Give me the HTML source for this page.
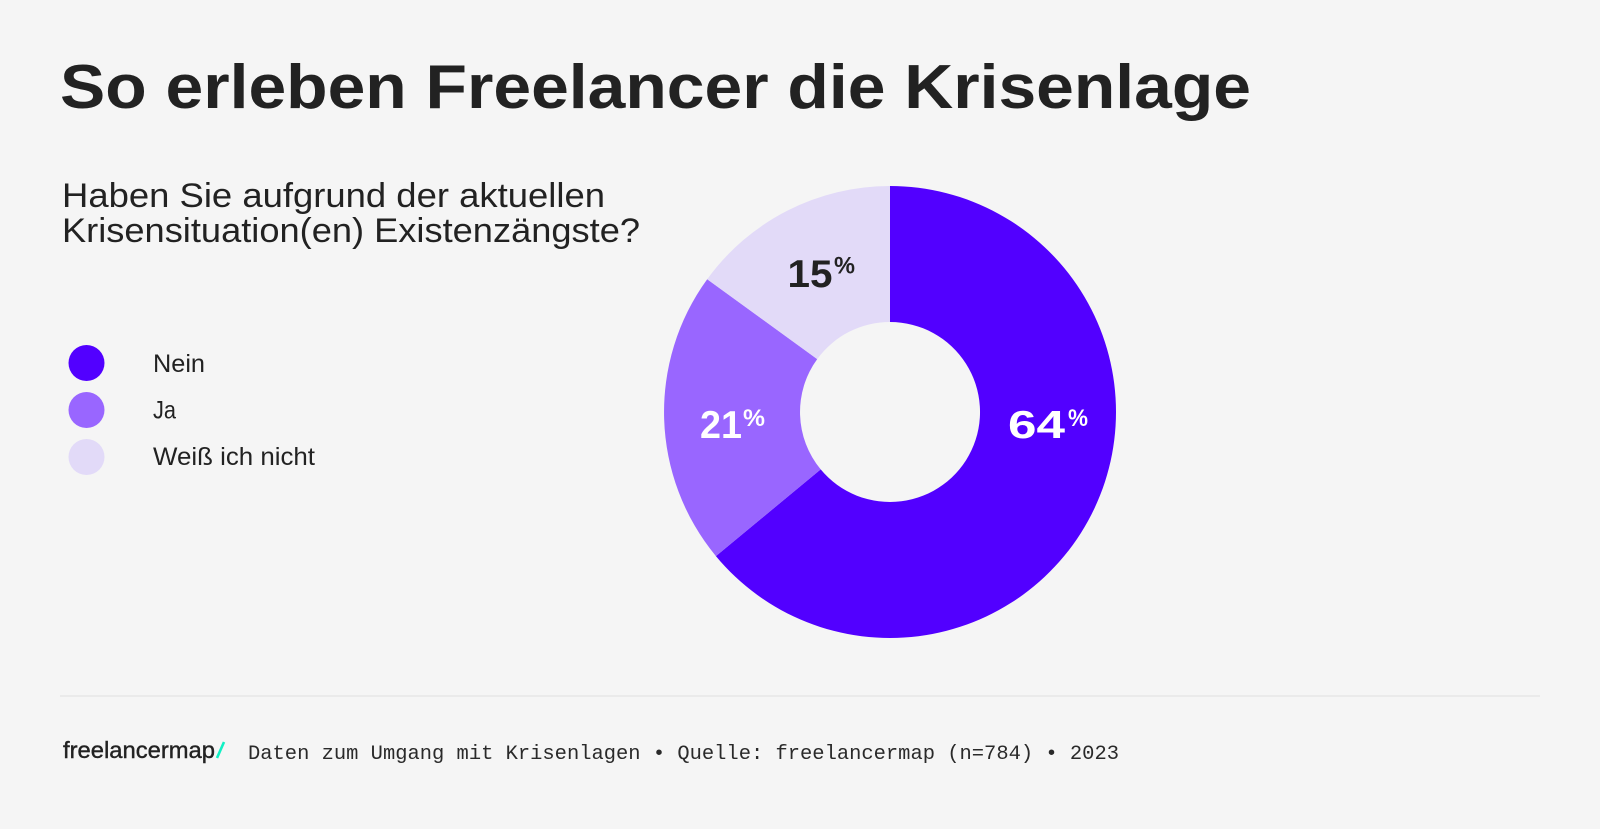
<!DOCTYPE html>
<html>
<head>
<meta charset="utf-8">
<style>
  html, body { margin: 0; padding: 0; background: #f5f5f5; }
  body { width: 1600px; height: 829px; overflow: hidden; }
  svg { display: block; }
</style>
</head>
<body>
<svg width="1600" height="829" viewBox="0 0 1600 829" xmlns="http://www.w3.org/2000/svg">
  <rect x="0" y="0" width="1600" height="829" fill="#f5f5f5"/>

  <!-- Title -->
  <text x="60" y="108" font-family="Liberation Sans, Arial, sans-serif" font-weight="bold" font-size="62" fill="#222222" textLength="1191" lengthAdjust="spacingAndGlyphs">So erleben Freelancer die Krisenlage</text>

  <!-- Subtitle -->
  <text x="62" y="207" font-family="Liberation Sans, Arial, sans-serif" font-size="34" fill="#222222" textLength="543" lengthAdjust="spacingAndGlyphs">Haben Sie aufgrund der aktuellen</text>
  <text x="62" y="242" font-family="Liberation Sans, Arial, sans-serif" font-size="34" fill="#222222" textLength="578" lengthAdjust="spacingAndGlyphs">Krisensituation(en) Existenzängste?</text>

  <!-- Legend -->
  <circle cx="86.5" cy="363" r="18" fill="#5200ff"/>
  <circle cx="86.5" cy="410" r="18" fill="#9966ff"/>
  <circle cx="86.5" cy="457" r="18" fill="#e2daf8"/>
  <text x="153" y="372" font-family="Liberation Sans, Arial, sans-serif" font-size="25" fill="#222222" textLength="52" lengthAdjust="spacingAndGlyphs">Nein</text>
  <text x="153" y="418.5" font-family="Liberation Sans, Arial, sans-serif" font-size="25" fill="#222222" textLength="23" lengthAdjust="spacingAndGlyphs">Ja</text>
  <text x="153" y="465" font-family="Liberation Sans, Arial, sans-serif" font-size="25" fill="#222222" textLength="162" lengthAdjust="spacingAndGlyphs">Weiß ich nicht</text>

  <!-- Donut: center (890,412), R=226, r=90 -->
  <!-- Nein 0 -> 230.4 deg -->
  <path d="M 890 186 A 226 226 0 1 1 715.9 556.1 L 820.7 469.4 A 90 90 0 1 0 890 322 Z" fill="#5200ff"/>
  <!-- Ja 230.4 -> 306 deg -->
  <path d="M 715.9 556.1 A 226 226 0 0 1 707.2 279.2 L 817.2 359.1 A 90 90 0 0 0 820.7 469.4 Z" fill="#9966ff"/>
  <!-- Weiss 306 -> 360 deg -->
  <path d="M 707.2 279.2 A 226 226 0 0 1 890 186 L 890 322 A 90 90 0 0 0 817.2 359.1 Z" fill="#e2daf8"/>

  <!-- Donut labels -->
  <text x="1008" y="438" font-family="Liberation Sans, Arial, sans-serif" font-weight="bold" font-size="38.5" fill="#ffffff" textLength="57" lengthAdjust="spacingAndGlyphs">64</text>
  <text x="1068" y="426" font-family="Liberation Sans, Arial, sans-serif" font-weight="bold" font-size="24" fill="#ffffff" textLength="20" lengthAdjust="spacingAndGlyphs">%</text>

  <text x="700" y="438" font-family="Liberation Sans, Arial, sans-serif" font-weight="bold" font-size="38.5" fill="#ffffff" textLength="42" lengthAdjust="spacingAndGlyphs">21</text>
  <text x="743" y="426" font-family="Liberation Sans, Arial, sans-serif" font-weight="bold" font-size="24" fill="#ffffff" textLength="22" lengthAdjust="spacingAndGlyphs">%</text>

  <text x="787.5" y="287" font-family="Liberation Sans, Arial, sans-serif" font-weight="bold" font-size="38.5" fill="#222222" textLength="45" lengthAdjust="spacingAndGlyphs">15</text>
  <text x="834" y="273.5" font-family="Liberation Sans, Arial, sans-serif" font-weight="bold" font-size="24" fill="#222222" textLength="21" lengthAdjust="spacingAndGlyphs">%</text>

  <!-- Footer divider -->
  <line x1="60" y1="696" x2="1540" y2="696" stroke="#e6e6e6" stroke-width="1.5"/>

  <!-- Footer logo -->
  <text x="63" y="758" font-family="Liberation Sans, Arial, sans-serif" font-size="23.5" fill="#222222" stroke="#222222" stroke-width="0.4" textLength="152" lengthAdjust="spacingAndGlyphs">freelancermap</text>
  <line x1="217" y1="758" x2="224" y2="742" stroke="#10f0c4" stroke-width="2.6"/>

  <!-- Footer source text -->
  <text x="248" y="759" font-family="Liberation Mono, DejaVu Sans Mono, monospace" font-size="20.5" fill="#2a2a2a" textLength="871" lengthAdjust="spacingAndGlyphs">Daten zum Umgang mit Krisenlagen • Quelle: freelancermap (n=784) • 2023</text>
</svg>
</body>
</html>
